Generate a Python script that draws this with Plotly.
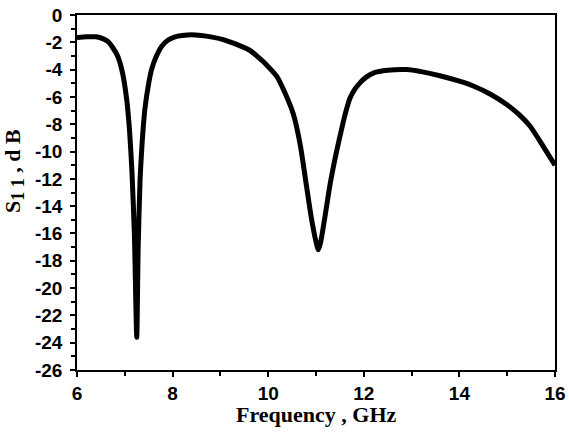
import plotly.graph_objects as go

freq_ghz = [6.0, 6.2, 6.4, 6.55, 6.65, 6.75, 6.85, 6.95, 7.04, 7.1, 7.15, 7.2, 7.25,
            7.28, 7.32, 7.36, 7.42, 7.5, 7.56, 7.65, 7.77, 7.9, 8.05, 8.2, 8.4, 8.6,
            8.8, 9.06, 9.3, 9.62, 9.76, 9.95, 10.18, 10.35, 10.53, 10.67, 10.8, 10.9,
            11.0, 11.05, 11.1, 11.2, 11.29, 11.4, 11.5, 11.6, 11.71, 11.82, 11.92,
            12.05, 12.2, 12.5, 12.9, 13.2, 13.59, 14.0, 14.29, 14.65, 14.99, 15.25,
            15.48, 15.75, 16.0]
s11_db = [-1.65, -1.6, -1.6, -1.75, -1.95, -2.4, -3.0, -4.2, -6.2, -8.5, -11.5, -16.0, -23.6,
          -17.0, -12.0, -9.5, -6.9, -5.0, -4.0, -3.1, -2.3, -1.85, -1.6, -1.5, -1.45, -1.5,
          -1.6, -1.8, -2.1, -2.6, -3.0, -3.6, -4.5, -5.7, -7.3, -9.5, -12.5, -14.8,
          -16.6, -17.2, -16.6, -14.5, -12.5, -10.5, -8.9, -7.4, -6.1, -5.4, -4.97,
          -4.55, -4.25, -4.05, -4.0, -4.15, -4.45, -4.85, -5.2, -5.8, -6.55, -7.3,
          -8.15, -9.6, -11.0]

x_ticks = [6, 8, 10, 12, 14, 16]
y_ticks = list(range(-26, 1, 2))

fig = go.Figure()
fig.add_trace(go.Scatter(x=freq_ghz, y=s11_db, mode="lines",
                         line=dict(color="black", width=5, shape="spline", smoothing=0.6),
                         showlegend=False, hoverinfo="skip"))

tick_font = dict(family="Liberation Sans, Arial", size=19, color="black", weight="bold")
title_font = dict(family="Liberation Serif, Times New Roman", size=22, color="black",
                  weight="bold")

fig.update_xaxes(range=[6, 16], tickvals=x_ticks, ticktext=[str(v) for v in x_ticks],
                 ticks="outside", ticklen=5, tickwidth=1.5, tickcolor="black",
                 minor=dict(tickvals=[7, 9, 11, 13, 15], ticks="outside", ticklen=4,
                            tickwidth=1.5, tickcolor="black"),
                 showline=True, linecolor="black", linewidth=1.5, mirror=True,
                 showgrid=False, zeroline=False, automargin=False,
                 ticklabeloverflow="allow",
                 tickfont=tick_font)
fig.update_yaxes(range=[-26, 0], tickvals=y_ticks, ticktext=[str(v) for v in y_ticks],
                 ticks="outside", ticklen=5, tickwidth=1.5, tickcolor="black",
                 minor=dict(tickvals=list(range(-25, 0, 2)), ticks="outside", ticklen=4,
                            tickwidth=1.5, tickcolor="black"),
                 showline=True, linecolor="black", linewidth=1.5, mirror=True,
                 showgrid=False, zeroline=False, automargin=False,
                 ticklabelstandoff=4, ticklabeloverflow="allow",
                 tickfont=tick_font)

fig.add_annotation(text="Frequency , GHz", xref="paper", yref="paper",
                   x=0.5, y=-0.125, xanchor="center", yanchor="middle",
                   showarrow=False, font=title_font)
fig.add_annotation(text="S<sub><span style='font-size:18px'>1 1</span></sub> , d B",
                   xref="paper", yref="paper",
                   x=-0.132, y=0.56, xanchor="center", yanchor="middle", textangle=-90,
                   showarrow=False, font=title_font)

fig.update_layout(width=569, height=432, margin=dict(l=77, r=14, t=15, b=62),
                  plot_bgcolor="white", paper_bgcolor="white",
                  font=dict(family="Liberation Sans, Arial", color="black"))

fig.write_html("out.html", config={"displayModeBar": False},
               post_script="document.body.style.margin='0';document.body.style.overflow='hidden';")
